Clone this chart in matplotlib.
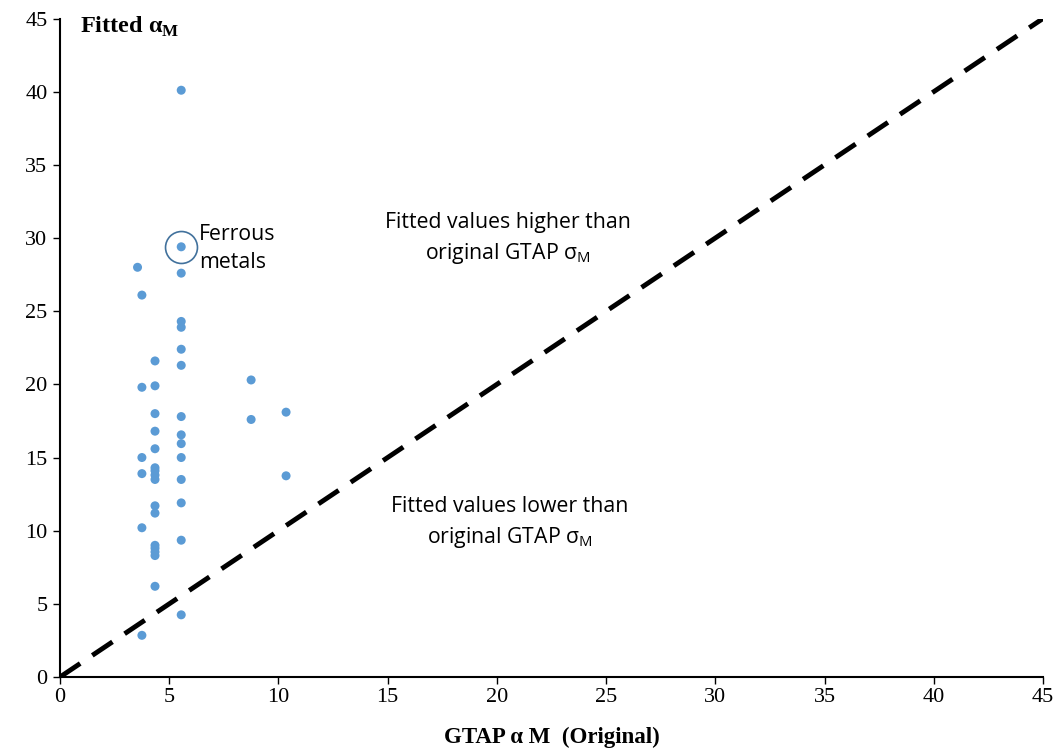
import numpy as np
import matplotlib.pyplot as plt

# GTAP original elasticity vs fitted value
gtap = [3.55,
        3.75, 3.75, 3.75, 3.75, 3.75, 3.75,
        4.35, 4.35, 4.35, 4.35, 4.35, 4.35, 4.35, 4.35, 4.35, 4.35, 4.35, 4.35, 4.35, 4.35, 4.35, 4.35,
        5.55, 5.55, 5.55, 5.55, 5.55, 5.55, 5.55, 5.55, 5.55, 5.55, 5.55, 5.55, 5.55, 5.55, 5.55,
        8.75, 8.75,
        10.35, 10.35]
fitted = [28.0,
          26.1, 19.8, 15.0, 13.9, 10.2, 2.85,
          21.6, 19.9, 18.0, 16.8, 15.6, 14.3, 14.1, 13.8, 13.5, 11.7, 11.2, 9.0, 8.8, 8.55, 8.3, 6.2,
          40.1, 29.4, 27.6, 24.3, 23.9, 22.4, 21.3, 17.8, 16.55, 15.95, 15.0, 13.5, 11.9, 9.35, 4.25,
          20.3, 17.6,
          18.1, 13.75]
ferrous = (5.55, 29.4)
diag = [0, 45]

fig = plt.figure(figsize=(10.58, 7.53), dpi=100)
ax = fig.add_axes([0.0567, 0.1009, 0.9291, 0.8745])

ax.plot(diag, diag, color='black', lw=3.5, dashes=(5, 3), zorder=1)
ax.scatter(gtap, fitted, s=42, color='#5B9BD5', edgecolors='none', zorder=3)
ax.plot(*ferrous, marker='o', ms=23, mfc='none', mec='#41719C', mew=1.2, zorder=4)

sans = 'Open Sans'
ax.text(6.35, 29.3, "Ferrous\nmetals", family=sans, fontsize=15.3,
        ha='left', va='center', linespacing=1.42)
ax.text(20.5, 29.95, "Fitted values higher than\noriginal GTAP σ$_\\mathregular{M}$",
        family=sans, fontsize=15.3, ha='center', va='center', linespacing=1.45)
ax.text(20.6, 10.5, "Fitted values lower than\noriginal GTAP σ$_\\mathregular{M}$",
        family=sans, fontsize=15.3, ha='center', va='center', linespacing=1.45)

serif = 'Liberation Serif'
ax.text(0.9, 44.4, "Fitted α$_\\mathregular{M}$", family=serif, fontsize=17.5,
        fontweight='bold', ha='left', va='center')
ax.set_xlabel("GTAP α M  (Original)", family=serif, fontsize=16.5, fontweight='bold', labelpad=14)

ax.set_xlim(0, 45)
ax.set_ylim(0, 45)
ax.set_xticks(np.arange(0, 46, 5))
ax.set_yticks(np.arange(0, 46, 5))
for lab in ax.get_xticklabels() + ax.get_yticklabels():
    lab.set_family(serif)
    lab.set_fontsize(16)
ax.tick_params(direction='out', length=5, width=1, pad=4)
ax.tick_params(axis='x', pad=3)
ax.spines['top'].set_visible(False)
ax.spines['right'].set_visible(False)
ax.spines['left'].set_linewidth(1.5)
ax.spines['bottom'].set_linewidth(1.5)

fig.savefig("out.png", dpi=100)
